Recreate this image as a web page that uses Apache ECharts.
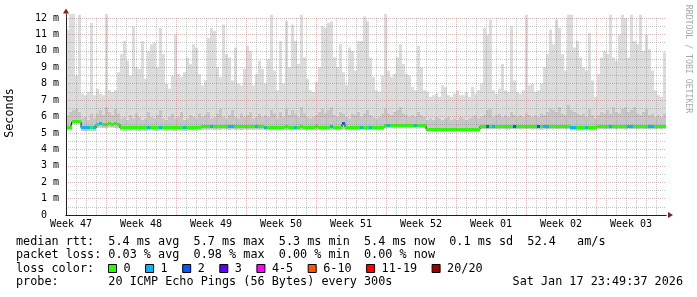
<!DOCTYPE html>
<html><head><meta charset="utf-8">
<script src="https://cdn.jsdelivr.net/npm/echarts@6/dist/echarts.min.js"></script>
<style>html,body{margin:0;padding:0;background:#fff}#c{width:697px;height:297px}</style>
</head><body><div id="c"></div>
<script>
// ---- data (60 days, one sample per 0.3 day) ----
const weekLabels = ['Week 47','Week 48','Week 49','Week 50','Week 51','Week 52','Week 01','Week 02','Week 03'];
const smokeMax = [
11.3,12.3,12.3,8.5,12.2,7.4,7.3,7.5,11.7,7.3,
7.7,7.4,7.3,12.3,7.6,7.5,7.6,8.7,9.8,10.6,
9.4,8.5,11.5,9.0,8.9,10.6,8.3,10.0,10.4,10.5,
9.0,11.4,9.8,8.0,7.7,8.5,11.0,8.6,8.4,8.7,
9.6,9.2,10.4,10.2,8.6,7.9,8.2,10.8,11.4,11.2,
9.0,8.4,11.6,9.8,9.6,8.2,10.2,8.0,7.9,8.9,
10.3,10.0,7.9,8.6,9.4,8.9,8.0,9.5,12.2,8.8,
7.6,10.6,8.0,11.8,9.0,11.6,10.6,9.2,12.2,9.6,
8.3,7.6,7.5,8.1,9.0,11.5,11.4,11.7,11.8,9.6,
9.0,10.4,8.7,7.9,10.2,10.0,8.8,10.6,10.6,12.1,
11.8,9.6,8.4,7.6,7.5,8.5,12.3,8.8,8.4,8.6,
9.6,10.4,9.2,8.6,8.5,7.8,7.6,10.3,9.0,7.6,
7.5,7.2,7.3,7.4,7.2,7.9,7.8,7.3,7.2,7.4,
7.6,7.3,7.3,7.5,7.2,7.8,7.4,7.6,8.0,11.4,
11.0,11.9,7.6,7.4,7.7,9.2,7.6,7.5,11.5,8.2,
7.5,7.4,7.6,12.2,7.9,8.0,7.5,7.6,8.0,9.0,
9.8,11.3,10.4,11.9,11.4,9.8,8.8,12.2,12.2,10.2,
10.6,9.6,9.0,8.8,11.1,8.2,7.2,8.6,9.6,10.0,
9.8,12.2,9.6,9.4,11.0,12.2,12.0,9.6,12.2,10.6,
10.4,12.2,10.0,11.0,10.1,8.8,7.6,7.3,7.2,9.9];
const smokeDark = [
6.1,6.3,6.4,6.5,6.3,5.9,6.0,5.8,6.2,5.9,
6.2,6.4,6.1,6.6,6.3,6.1,6.5,6.2,5.9,6.0,
5.8,6.1,5.9,6.2,6.0,5.8,5.9,6.3,6.0,5.9,
6.1,6.4,5.9,5.8,6.0,6.2,5.9,6.0,6.3,5.8,
5.9,6.1,6.0,5.9,6.2,6.0,6.1,6.3,5.9,6.0,
6.2,6.5,6.0,5.9,6.1,6.4,6.0,5.9,6.2,6.0,
6.1,6.3,5.9,6.0,6.2,6.0,6.1,6.0,6.4,6.2,
5.9,6.3,6.0,6.5,6.1,6.4,6.2,6.0,6.6,6.2,
6.0,5.9,6.0,6.1,6.3,6.5,6.2,6.4,6.6,6.1,
6.0,6.3,6.2,6.0,5.9,6.2,6.1,6.3,6.0,6.2,
6.4,6.1,6.0,5.9,6.0,6.2,6.5,6.2,6.1,6.3,
6.4,6.6,6.2,6.1,6.0,6.1,6.0,6.3,6.1,6.0,
5.8,5.9,5.8,6.0,5.9,5.8,5.9,6.0,5.8,5.9,
5.8,6.0,5.9,5.8,5.9,6.0,6.1,5.9,6.0,6.1,
6.4,6.5,6.0,6.1,6.2,6.0,6.1,6.0,6.3,6.1,
6.0,6.1,6.0,6.2,6.1,6.0,6.1,6.0,6.2,6.1,
6.3,6.5,6.4,6.3,6.6,6.2,6.1,6.7,6.4,6.3,
6.2,6.1,6.2,6.0,6.5,6.1,5.9,6.1,6.3,6.2,
6.4,6.2,6.6,6.3,6.2,6.5,6.6,6.3,6.4,6.6,
6.2,6.1,6.3,6.5,6.1,6.2,6.0,6.1,6.0,6.2];
const smokeLow = [
5.15,5.15,5.55,5.56,5.55,5.12,5.10,5.12,5.13,5.12,
5.30,5.32,5.30,5.28,5.33,5.32,5.30,5.28,5.14,5.12,
5.15,5.13,5.16,5.14,5.12,5.15,5.13,5.14,5.16,5.13,
5.12,5.15,5.14,5.13,5.16,5.14,5.12,5.15,5.14,5.13,
5.15,5.16,5.14,5.15,5.16,5.18,5.20,5.19,5.21,5.18,
5.20,5.19,5.22,5.20,5.18,5.21,5.19,5.20,5.18,5.21,
5.19,5.20,5.18,5.21,5.19,5.20,5.18,5.17,5.19,5.18,
5.16,5.18,5.19,5.17,5.18,5.16,5.18,5.19,5.17,5.18,
5.16,5.18,5.19,5.17,5.18,5.16,5.18,5.19,5.17,5.18,
5.16,5.18,5.19,5.17,5.18,5.16,5.18,5.17,5.19,5.18,
5.16,5.17,5.18,5.19,5.17,5.18,5.28,5.30,5.29,5.27,
5.30,5.28,5.29,5.31,5.28,5.30,5.29,5.27,5.30,5.28,
5.08,5.10,5.09,5.07,5.10,5.08,5.09,5.10,5.08,5.07,
5.09,5.10,5.08,5.09,5.07,5.10,5.08,5.09,5.22,5.24,
5.21,5.23,5.22,5.24,5.21,5.23,5.22,5.20,5.23,5.22,
5.24,5.21,5.23,5.22,5.24,5.20,5.22,5.21,5.19,5.22,
5.20,5.23,5.21,5.24,5.22,5.23,5.21,5.24,5.15,5.17,
5.14,5.16,5.15,5.17,5.14,5.16,5.15,5.22,5.24,5.21,
5.23,5.22,5.24,5.21,5.23,5.22,5.20,5.23,5.22,5.24,
5.21,5.23,5.22,5.24,5.21,5.23,5.22,5.24,5.21,5.23];
const medianRtt = [
5.35,5.35,5.68,5.70,5.68,5.31,5.30,5.30,5.31,5.30,
5.50,5.55,5.50,5.52,5.56,5.54,5.55,5.50,5.32,5.31,
5.32,5.33,5.32,5.32,5.31,5.32,5.33,5.32,5.31,5.32,
5.32,5.33,5.32,5.31,5.32,5.33,5.32,5.32,5.31,5.32,
5.33,5.32,5.32,5.33,5.34,5.38,5.37,5.38,5.39,5.38,
5.37,5.38,5.39,5.40,5.38,5.37,5.38,5.39,5.38,5.38,
5.37,5.38,5.39,5.38,5.37,5.38,5.36,5.36,5.36,5.36,
5.36,5.35,5.36,5.37,5.36,5.35,5.36,5.36,5.37,5.36,
5.35,5.36,5.36,5.37,5.36,5.35,5.36,5.36,5.37,5.36,
5.36,5.35,5.55,5.35,5.35,5.34,5.35,5.35,5.36,5.35,
5.34,5.35,5.35,5.36,5.35,5.35,5.47,5.47,5.48,5.47,
5.46,5.47,5.48,5.47,5.47,5.46,5.47,5.48,5.47,5.46,
5.22,5.22,5.23,5.22,5.21,5.22,5.22,5.23,5.22,5.21,
5.22,5.22,5.23,5.22,5.21,5.22,5.22,5.23,5.40,5.41,
5.40,5.40,5.41,5.40,5.39,5.40,5.41,5.40,5.40,5.41,
5.40,5.39,5.40,5.41,5.40,5.38,5.38,5.37,5.38,5.38,
5.38,5.41,5.41,5.42,5.41,5.41,5.40,5.41,5.33,5.33,
5.32,5.33,5.34,5.33,5.33,5.32,5.33,5.40,5.40,5.41,
5.40,5.40,5.41,5.40,5.39,5.40,5.41,5.40,5.40,5.41,
5.40,5.39,5.40,5.41,5.40,5.40,5.41,5.40,5.40,5.40];
// [sample index, lost pings] for samples with loss
const lossEvents = [[5,1],[6,1],[7,1],[9,1],[11,1],[27,1],[31,1],[39,1],[48,1],[54,1],[55,1],[63,1],[66,1],[76,1],[88,1],[92,2],[98,1],[101,1],[107,1],[116,1],[140,2],[142,1],[149,2],[157,2],[159,1],[160,1],[168,1],[169,1],[173,1],[181,1],[187,1],[188,1],[194,1],[195,1]];
const lossClasses = [[0,'0','#26ff00'],[1,'1','#00b8ff'],[2,'2','#0059ff'],[3,'3','#5e00ff'],[5,'4-5','#ff00ff'],[10,'6-10','#ff5500'],[19,'11-19','#ff0000'],[20,'20/20','#a10000']];
const statsLine1 = 'median rtt:  5.4 ms avg  5.7 ms max  5.3 ms min  5.4 ms now  0.1 ms sd  52.4   am/s';
const statsLine2 = 'packet loss: 0.03 % avg  0.98 % max  0.00 % min  0.00 % now';
const probeText = 'probe:       20 ICMP Echo Pings (56 Bytes) every 300s';
const dateText = 'Sat Jan 17 23:49:37 2026';

// ---- build ----
const N = medianRtt.length;
const stepDays = 0.3;
const tAt = i => (i + 0.5) * stepDays;
const lossAt = new Array(N).fill(0);
lossEvents.forEach(([i, c]) => { lossAt[i] = c; });
const lossColor = c => { for (const [mx, , col] of lossClasses) if (c <= mx) return col; return '#a10000'; };

const MONO = "'DejaVu Sans Mono', monospace";
const G0 = {left: 66, top: 14, width: 600, height: 201};
const G1 = {left: 66, top: 18, width: 600, height: 197};
const yMax0 = 12 * G0.height / G1.height;

const gridGray = 'rgba(143,143,143,0.5)';
const gridRed = 'rgba(222,79,79,0.45)';
const dayColors = [];
for (let k = 0; k < 7; k++) dayColors.push(k === 4 ? gridRed : gridGray);

const smokeData = smokeMax.map((v, i) => [tAt(i), smokeLow[i], smokeDark[i], v]);
const medData = medianRtt.map((v, i) => [tAt(i), v, lossAt[i]]);

const series = [
  {type: 'custom', xAxisIndex: 0, yAxisIndex: 0, silent: true, animation: false, clip: true, z: 2,
   encode: {x: 0, y: [1, 2, 3]}, data: smokeData,
   renderItem: (params, api) => {
     const x = api.value(0);
     const pL = api.coord([x, api.value(1)]);
     const pD = api.coord([x, api.value(2)]);
     const pM = api.coord([x, api.value(3)]);
     const w = api.size([stepDays, 0])[0];
     const x0 = pL[0] - w / 2;
     return {type: 'group', children: [
       {type: 'rect', shape: {x: x0, y: pD[1], width: w, height: pL[1] - pD[1]}, style: {fill: '#c6c6c6'}},
       {type: 'rect', shape: {x: x0, y: pM[1], width: w, height: pD[1] - pM[1]}, style: {fill: '#dcdcdc'}}
     ]};
   }},
  {type: 'line', xAxisIndex: 0, yAxisIndex: 0, step: 'middle', symbol: 'none', silent: true, animation: false, z: 3,
   lineStyle: {color: '#202020', width: 1}, data: medianRtt.map((v, i) => [tAt(i), v])},
  {type: 'custom', xAxisIndex: 0, yAxisIndex: 0, silent: true, animation: false, clip: true, z: 4,
   encode: {x: 0, y: 1}, data: medData,
   renderItem: (params, api) => {
     const x = api.value(0);
     const p = api.coord([x, api.value(1)]);
     const w = api.size([stepDays, 0])[0];
     return {type: 'rect', shape: {x: p[0] - w / 2, y: Math.round(p[1] - 1.5), width: w, height: 3},
       style: {fill: lossColor(api.value(2))}};
   }}
];

const graphic = [];
const txt = (x, y, text, extra) => Object.assign({type: 'text', x: x, y: y, silent: true,
  style: Object.assign({text: text, font: '11.8px ' + MONO, fill: '#000', textAlign: 'left', textVerticalAlign: 'middle'}, (extra || {}))});
const lineY = [241.6, 255.0, 268.5, 281.9];
graphic.push(txt(16, lineY[0], statsLine1));
graphic.push(txt(16, lineY[1], statsLine2));
graphic.push(txt(16, lineY[2], 'loss color:'));
let bx = 108;
lossClasses.forEach(([, label, col]) => {
  graphic.push({type: 'rect', silent: true, shape: {x: bx + 0.5, y: 264.5, width: 8, height: 8}, style: {fill: col, stroke: '#000', lineWidth: 1}});
  graphic.push(txt(bx + 15.5, lineY[2], label));
  bx += 30 + 7.1 * label.length;
});
graphic.push(txt(16, lineY[3], probeText));
graphic.push(txt(683, lineY[3], dateText, {textAlign: 'right'}));
graphic.push({type: 'text', x: 9.5, y: 113, rotation: Math.PI / 2, silent: true,
  style: {text: 'Seconds', font: '11.8px ' + MONO, fill: '#000', textAlign: 'center', textVerticalAlign: 'middle'}});
graphic.push({type: 'text', x: 688, y: 59, rotation: -Math.PI / 2, silent: true,
  style: {text: 'RRDTOOL / TOBI OETIKER', font: '8.2px ' + MONO, fill: '#a8a8a8', textAlign: 'center', textVerticalAlign: 'middle'}});

const option = {
  animation: false,
  backgroundColor: '#ffffff',
  grid: [
    Object.assign({}, G0),
    Object.assign({}, G1),
    {left: 71, top: 18, width: 600, height: 197}
  ],
  xAxis: [
    {type: 'value', gridIndex: 0, min: 0, max: 60, z: 6,
     axisLine: {show: true, lineStyle: {color: '#801f1f', width: 1}, symbol: ['none', 'triangle'], symbolSize: [6, 5], symbolOffset: [0, 4.5]},
     axisTick: {show: false}, axisLabel: {show: false}, splitLine: {show: false}},
    {type: 'value', gridIndex: 1, min: 0, max: 60, interval: 1, z: 7,
     axisLine: {show: true, lineStyle: {color: '#1f1f1f', width: 1}},
     axisTick: {show: false}, axisLabel: {show: false},
     splitLine: {show: true, showMaxLine: false, lineStyle: {color: dayColors, width: 1, type: [1, 1]}}},
    {type: 'value', gridIndex: 2, min: 0, max: 60, interval: 1,
     axisLine: {show: false}, axisTick: {show: false}, splitLine: {show: false},
     axisLabel: {show: true, margin: 4, fontFamily: MONO, fontSize: 10, color: '#000',
       formatter: (v) => (Math.round(v) % 7 === 0 ? (weekLabels[Math.round(v) / 7] || '') : '')}}
  ],
  yAxis: [
    {type: 'value', gridIndex: 0, min: 0, max: yMax0, z: 6,
     axisLine: {show: true, lineStyle: {color: '#801f1f', width: 1}, symbol: ['none', 'triangle'], symbolSize: [6, 5], symbolOffset: [0, 3]},
     axisTick: {show: false}, axisLabel: {show: false}, splitLine: {show: false}},
    {type: 'value', gridIndex: 1, min: 0, max: 12, interval: 1, z: 7,
     axisLine: {show: true, lineStyle: {color: '#1f1f1f', width: 1}},
     axisTick: {show: false},
     minorTick: {show: false, splitNumber: 2},
     minorSplitLine: {show: true, lineStyle: {color: gridGray, width: 1, type: [1, 1]}},
     splitLine: {show: true, showMinLine: false, lineStyle: {color: gridRed, width: 1, type: [1, 1]}},
     axisLabel: {show: true, margin: 7, fontFamily: MONO, fontSize: 10, color: '#000',
       formatter: (v) => v === 0 ? '0  ' : v + ' m'}},
    {type: 'value', gridIndex: 2, min: 0, max: 12, show: false}
  ],
  series: series,
  graphic: graphic
};
const chart = echarts.init(document.getElementById('c'), null, {renderer: 'canvas'});
chart.setOption(option);
</script></body></html>
